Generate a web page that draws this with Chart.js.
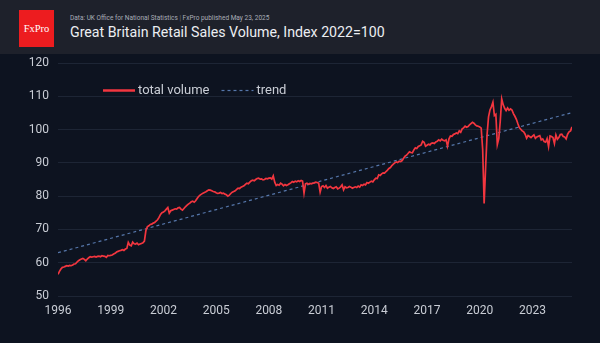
<!DOCTYPE html>
<html>
<head>
<meta charset="utf-8">
<title>GB Retail Sales Volume</title>
<script src="https://cdn.jsdelivr.net/npm/chart.js@4.4.1/dist/chart.umd.min.js"></script>
<style>
  html, body { margin: 0; padding: 0; }
  body { width: 600px; height: 343px; background: #0d1320; font-family: Roboto, sans-serif; overflow: hidden; }
  .header { position: relative; height: 54px; background: #1e212b; }
  .logo { position: absolute; left: 19px; top: 10px; width: 35px; height: 37px; background: #ed1c1f;
          color: #fff; font-family: 'Liberation Serif', serif; font-size: 10.5px;
          display: flex; align-items: center; justify-content: center; }
  .source { position: absolute; left: 70px; top: 14px; font-size: 6.5px; color: #a9adb7; white-space: nowrap; }
  .source .sep { color: #6f7480; }
  .title { position: absolute; left: 70px; top: 24px; font-size: 14.2px; color: #eceef2; white-space: nowrap; }
  .chart-box { position: relative; width: 600px; height: 289px; }
  canvas { display: block; }
</style>
</head>
<body>
<div class="header">
  <div class="logo">FxPro</div>
  <div class="source">Data: UK Office for National Statistics <span class="sep">|</span> FxPro published May 23, 2025</div>
  <div class="title">Great Britain Retail Sales Volume, Index 2022=100</div>
</div>
<div class="chart-box">
  <canvas id="sales" width="600" height="289"></canvas>
</div>
<script>
// monthly index, Jan 1996 .. Apr 2025 (2022 = 100)
const startYear = 1996;
const volume = [
  56.5, 57.4, 58.1, 58.6, 58.7, 58.9, 59.1, 59.0, 59.2, 59.1, 59.3, 59.6, // 1996
  59.7, 60.2, 60.6, 60.9, 61.1, 61.3, 61.0, 60.6, 61.1, 61.5, 61.8, 61.7, // 1997
  61.8, 61.9, 61.7, 61.9, 62.0, 61.8, 62.1, 62.0, 61.9, 61.6, 62.2, 62.1, // 1998
  62.2, 62.3, 62.6, 62.8, 63.2, 63.4, 63.6, 63.7, 63.9, 63.7, 64.1, 64.3, // 1999
  66.1, 65.3, 65.1, 66.2, 65.7, 65.6, 65.9, 65.4, 65.6, 65.8, 66.0, 66.5, // 2000
  69.6, 70.8, 71.1, 71.5, 71.6, 71.9, 72.1, 72.5, 72.9, 73.6, 74.5, 75.0, // 2001
  75.2, 75.6, 76.1, 76.6, 74.9, 75.6, 75.8, 76.0, 76.2, 76.1, 76.5, 76.6, // 2002
  76.1, 75.8, 76.3, 76.8, 77.2, 77.6, 77.9, 78.3, 78.5, 78.2, 78.6, 79.3, // 2003
  79.9, 80.3, 80.6, 80.9, 81.1, 81.3, 81.6, 81.9, 81.8, 81.6, 81.4, 81.3, // 2004
  81.0, 80.8, 80.9, 81.1, 80.8, 80.9, 80.6, 80.4, 80.0, 80.3, 80.8, 81.2, // 2005
  81.4, 81.6, 82.0, 82.4, 82.3, 82.7, 82.9, 83.1, 83.5, 83.9, 83.7, 84.2, // 2006
  84.6, 84.8, 84.6, 85.0, 85.3, 85.4, 85.1, 85.2, 84.9, 85.0, 85.3, 85.2, // 2007
  85.4, 85.5, 85.1, 86.1, 84.2, 83.2, 83.5, 83.3, 83.9, 83.6, 83.1, 83.5, // 2008
  83.2, 83.4, 83.7, 84.0, 84.4, 84.2, 84.5, 84.3, 84.6, 84.4, 84.7, 84.5, // 2009
  80.9, 83.7, 83.9, 83.6, 83.8, 83.7, 83.9, 84.0, 84.2, 84.1, 83.9, 81.2, // 2010
  82.9, 83.1, 82.6, 83.2, 82.4, 82.7, 82.9, 82.5, 82.3, 82.6, 82.8, 82.2, // 2011
  82.4, 82.8, 83.4, 81.9, 82.8, 82.5, 82.6, 82.9, 82.7, 82.4, 82.6, 82.8, // 2012
  82.6, 83.0, 82.7, 83.4, 83.2, 83.6, 83.4, 84.1, 83.9, 84.2, 84.5, 84.3, // 2013
  84.9, 85.4, 85.3, 86.4, 86.2, 86.7, 87.0, 86.9, 87.4, 87.8, 88.3, 88.6, // 2014
  89.2, 89.6, 90.0, 90.3, 90.1, 90.5, 90.4, 90.7, 91.4, 92.0, 92.3, 92.8, // 2015
  93.3, 93.1, 93.0, 93.9, 94.5, 94.3, 94.9, 95.1, 95.4, 96.5, 96.2, 95.0, // 2016
  95.3, 95.6, 95.4, 95.9, 96.0, 95.8, 96.3, 96.5, 96.9, 96.6, 97.1, 96.8, // 2017
  96.6, 96.9, 95.0, 97.2, 98.1, 98.0, 98.5, 98.7, 99.0, 98.8, 99.6, 99.2, // 2018
  100.2, 100.5, 101.0, 100.7, 100.9, 101.4, 101.8, 102.2, 101.9, 101.4, 101.1, 101.0, // 2019
  100.8, 100.4, 94.0, 77.8, 88.5, 98.5, 103.8, 105.9, 106.9, 108.2, 104.2, 104.6, // 2020
  95.5, 97.3, 102.5, 109.2, 107.5, 106.4, 105.7, 106.5, 105.8, 106.2, 105.9, 104.8, // 2021
  104.0, 103.1, 101.8, 100.6, 100.1, 99.6, 99.3, 98.6, 97.4, 98.2, 97.9, 97.6, // 2022
  98.0, 98.4, 97.4, 97.8, 98.0, 98.2, 96.9, 97.2, 96.4, 96.2, 97.3, 94.9, // 2023
  98.1, 97.9, 97.6, 95.8, 98.4, 97.1, 97.6, 98.5, 98.6, 97.9, 97.8, 97.2, // 2024
  98.6, 99.3, 99.6, 100.8 // 2025
];

// straight trend line, start and end of the period
const trendYears = [1996, 2025.25];
const trendValues = [63.0, 105.1];

const yearTicks = [1996, 1999, 2002, 2005, 2008, 2011, 2014, 2017, 2020, 2023];

const labelColor = '#c9cdd5';

// legend drawn inside the plot area, top left
const innerLegend = {
  id: 'innerLegend',
  afterDraw(chart) {
    const { ctx, chartArea } = chart;
    const y = chartArea.top + 27.5;
    let x = chartArea.left + 45;
    ctx.save();
    ctx.font = '13px Roboto';
    ctx.textBaseline = 'middle';
    chart.data.datasets.forEach(ds => {
      ctx.strokeStyle = ds.borderColor;
      ctx.lineWidth = ds.legendWidth;
      ctx.setLineDash(ds.borderDash || []);
      ctx.beginPath();
      ctx.moveTo(x, y);
      ctx.lineTo(x + 32, y);
      ctx.stroke();
      ctx.setLineDash([]);
      ctx.fillStyle = labelColor;
      ctx.fillText(ds.label, x + 35, y);
      x += 35 + ctx.measureText(ds.label).width + 12;
    });
    ctx.restore();
  }
};

new Chart(document.getElementById('sales'), {
  type: 'line',
  data: {
    datasets: [
      {
        label: 'total volume',
        data: volume.map((v, i) => ({ x: startYear + i / 12, y: v })),
        borderColor: '#f2363f',
        borderWidth: 1.7,
        legendWidth: 2.5,
        pointRadius: 0,
        tension: 0
      },
      {
        label: 'trend',
        data: trendYears.map((yr, i) => ({ x: yr, y: trendValues[i] })),
        borderColor: '#5677ab',
        borderWidth: 1.2,
        legendWidth: 1.2,
        borderDash: [3, 3],
        pointRadius: 0
      }
    ]
  },
  options: {
    responsive: false,
    animation: false,
    layout: { padding: { top: 9, right: 28, bottom: 0, left: 0 } },
    plugins: {
      legend: { display: false },
      tooltip: { enabled: false }
    },
    scales: {
      x: {
        type: 'linear',
        min: 1996,
        max: 2025.25,
        afterBuildTicks: s => { s.ticks = yearTicks.map(v => ({ value: v })); },
        afterFit: s => { s.height = 47; },
        grid: { display: false, drawTicks: false },
        border: { display: false },
        ticks: {
          color: labelColor,
          font: { family: 'Roboto', size: 12 },
          padding: 8,
          maxRotation: 0,
          callback: v => String(v)
        }
      },
      y: {
        min: 50,
        max: 120,
        // fixed axis width, and no extra room above the top label
        afterFit: s => { s.width = 58; s.paddingTop = 0; s.paddingBottom = 0; },
        grid: { color: '#1d2535', lineWidth: 1, drawTicks: false },
        border: { display: false },
        ticks: {
          stepSize: 10,
          color: labelColor,
          font: { family: 'Roboto', size: 12 },
          padding: 9
        }
      }
    }
  },
  plugins: [innerLegend]
});
</script>
</body>
</html>
